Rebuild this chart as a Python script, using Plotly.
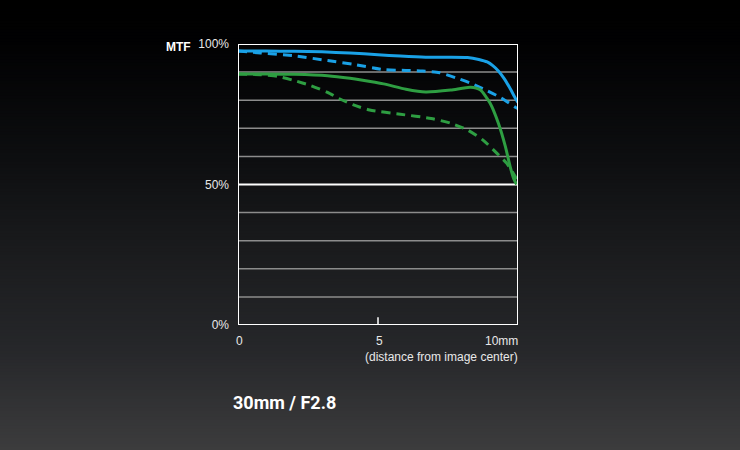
import plotly.graph_objects as go

# Data (distance from image center in mm, MTF in %)
blue_solid_x = [0, 1, 2, 3, 4, 5, 5.8, 6.7, 7.5, 8.2, 8.6, 8.9, 9.1, 9.3, 9.5, 9.7, 9.9, 10]
blue_solid_y = [97.5, 97.5, 97.4, 97.2, 96.8, 96.2, 95.7, 95.3, 95.3, 95.2, 94.5, 93.6, 92.3, 90.4, 87.8, 84.5, 80.8, 79.2]

blue_dash_x = [0, 0.8, 2, 3.2, 4.1, 5.2, 6.0, 6.6, 7.2, 7.8, 8.3, 8.9, 9.4, 9.9, 10]
blue_dash_y = [97.5, 96.8, 95.8, 94.1, 92.8, 90.9, 90.6, 90.4, 89.8, 87.9, 86.1, 83.4, 80.8, 77.5, 77.0]

green_solid_x = [0, 1, 2, 3.2, 4.0, 4.4, 5.2, 6.0, 6.7, 7.6, 8.3, 8.65, 9.0, 9.3, 9.55, 9.72, 9.85, 9.95]
green_solid_y = [89.3, 89.3, 89.2, 88.7, 87.8, 87.2, 85.8, 83.9, 82.9, 83.6, 84.6, 83.7, 79.0, 71.8, 63.5, 56.4, 52.0, 50.0]

green_dash_x = [0, 0.8, 1.4, 2.0, 2.6, 3.2, 3.6, 4.1, 4.7, 5.8, 6.9, 7.6, 8.2, 8.75, 9.25, 9.6, 9.9, 10]
green_dash_y = [89.3, 89.1, 88.5, 87.0, 85.2, 82.8, 80.6, 78.4, 76.5, 75.0, 73.5, 71.8, 69.4, 65.8, 61.1, 57.5, 52.8, 51.0]

y_tick_vals = [0, 50, 100]
y_tick_text = ["0%", "50%", "100%"]
x_labels = [(0, "0"), (5, "5"), (10, "10mm")]
grid_vals = [10, 20, 30, 40, 60, 70, 80, 90]

BLUE = "#1aa1e6"
GREEN = "#2e9e42"

fig = go.Figure()
fig.add_trace(go.Scatter(x=blue_dash_x, y=blue_dash_y, mode="lines", line=dict(color=BLUE, width=3, dash="9px,6px", shape="spline", smoothing=0.6), hoverinfo="skip"))
fig.add_trace(go.Scatter(x=green_dash_x, y=green_dash_y, mode="lines", line=dict(color=GREEN, width=3, dash="9px,6px", shape="spline", smoothing=0.6), hoverinfo="skip"))
fig.add_trace(go.Scatter(x=green_solid_x, y=green_solid_y, mode="lines", line=dict(color=GREEN, width=3, shape="spline", smoothing=0.6), hoverinfo="skip"))
fig.add_trace(go.Scatter(x=blue_solid_x, y=blue_solid_y, mode="lines", line=dict(color=BLUE, width=3, shape="spline", smoothing=0.6), hoverinfo="skip"))

shapes = []
# background gradient
stops = [(0.0, (0, 0, 0)), (40, (1, 1, 2)), (150, (12, 13, 15)), (250, (26, 27, 29)), (350, (38, 39, 42)), (450, (60, 60, 61))]
def col(yp):
    for i in range(len(stops) - 1):
        y0, c0 = stops[i]
        y1, c1 = stops[i + 1]
        if y0 <= yp <= y1:
            t = (yp - y0) / (y1 - y0)
            return "rgb(%d,%d,%d)" % tuple(round(c0[k] + (c1[k] - c0[k]) * t) for k in range(3))
    return "rgb(60,60,61)"
H = 450
step = 3
for yp in range(0, H, step):
    shapes.append(dict(type="rect", xref="paper", yref="paper", layer="below",
                       x0=-1, x1=2,
                       y0=(H - yp - step - 125) / 281.0, y1=(H - yp - 125) / 281.0 + 0.002,
                       line=dict(width=0), fillcolor=col(yp + step / 2)))
# gridlines
for g in grid_vals:
    shapes.append(dict(type="line", xref="x", yref="y", x0=0, x1=10, y0=g, y1=g,
                       line=dict(color="#8c8c8c", width=1.5), layer="below"))
shapes.append(dict(type="line", xref="x", yref="y", x0=0, x1=10, y0=50, y1=50,
                   line=dict(color="#ffffff", width=2), layer="below"))
# frame
shapes.append(dict(type="rect", xref="x", yref="y", x0=0, x1=10, y0=0, y1=100,
                   line=dict(color="#ffffff", width=2), layer="above"))
# tick at 5
shapes.append(dict(type="line", xref="x", yref="y", x0=5, x1=5, y0=0, y1=2.8,
                   line=dict(color="#ffffff", width=1.5)))

annotations = []
for xv, t in x_labels:
    annotations.append(dict(x=xv, y=0, xref="x", yref="y", text=t, showarrow=False,
                            xanchor="right" if t == "10mm" else "center", yanchor="top", yshift=-7,
                            xshift=2 if t == "10mm" else 1,
                            font=dict(family="Liberation Sans, Arial", size=12, color="#e8e8e8")))
annotations.append(dict(x=10, y=0, xref="x", yref="y", text="(distance from image center)", showarrow=False,
                        xanchor="right", yanchor="top", yshift=-23, xshift=2,
                        font=dict(family="Liberation Sans, Arial", size=12, color="#e8e8e8")))
annotations.append(dict(xref="x", yref="y", x=0, y=100, text="<b>MTF</b>", showarrow=False,
                        xanchor="right", xshift=-45, yanchor="middle", yshift=-3,
                        font=dict(family="Liberation Sans, Arial", size=12, color="#ffffff")))
annotations.append(dict(x=(231 - 238) / 280.0, y=(450 - 402 - 125) / 281.0, xref="paper", yref="paper",
                        text="<b>30mm / F2.8</b>", showarrow=False, xanchor="left", yanchor="middle",
                        font=dict(family="Roboto", size=18, color="#ffffff")))

fig.update_layout(
    width=740, height=450,
    margin=dict(l=238, r=222, t=44, b=125),
    paper_bgcolor="#000000", plot_bgcolor="rgba(0,0,0,0)",
    showlegend=False,
    shapes=shapes, annotations=annotations,
    xaxis=dict(range=[0, 10], showgrid=False, zeroline=False, showticklabels=False, ticks="", showline=False, fixedrange=True),
    yaxis=dict(range=[0, 100], showgrid=False, zeroline=False, tickvals=y_tick_vals, ticktext=y_tick_text,
               ticks="", ticklabelstandoff=8, showline=False, fixedrange=True,
               tickfont=dict(family="Liberation Sans, Arial", size=12, color="#e8e8e8")),
)
fig.write_html("out.html")
